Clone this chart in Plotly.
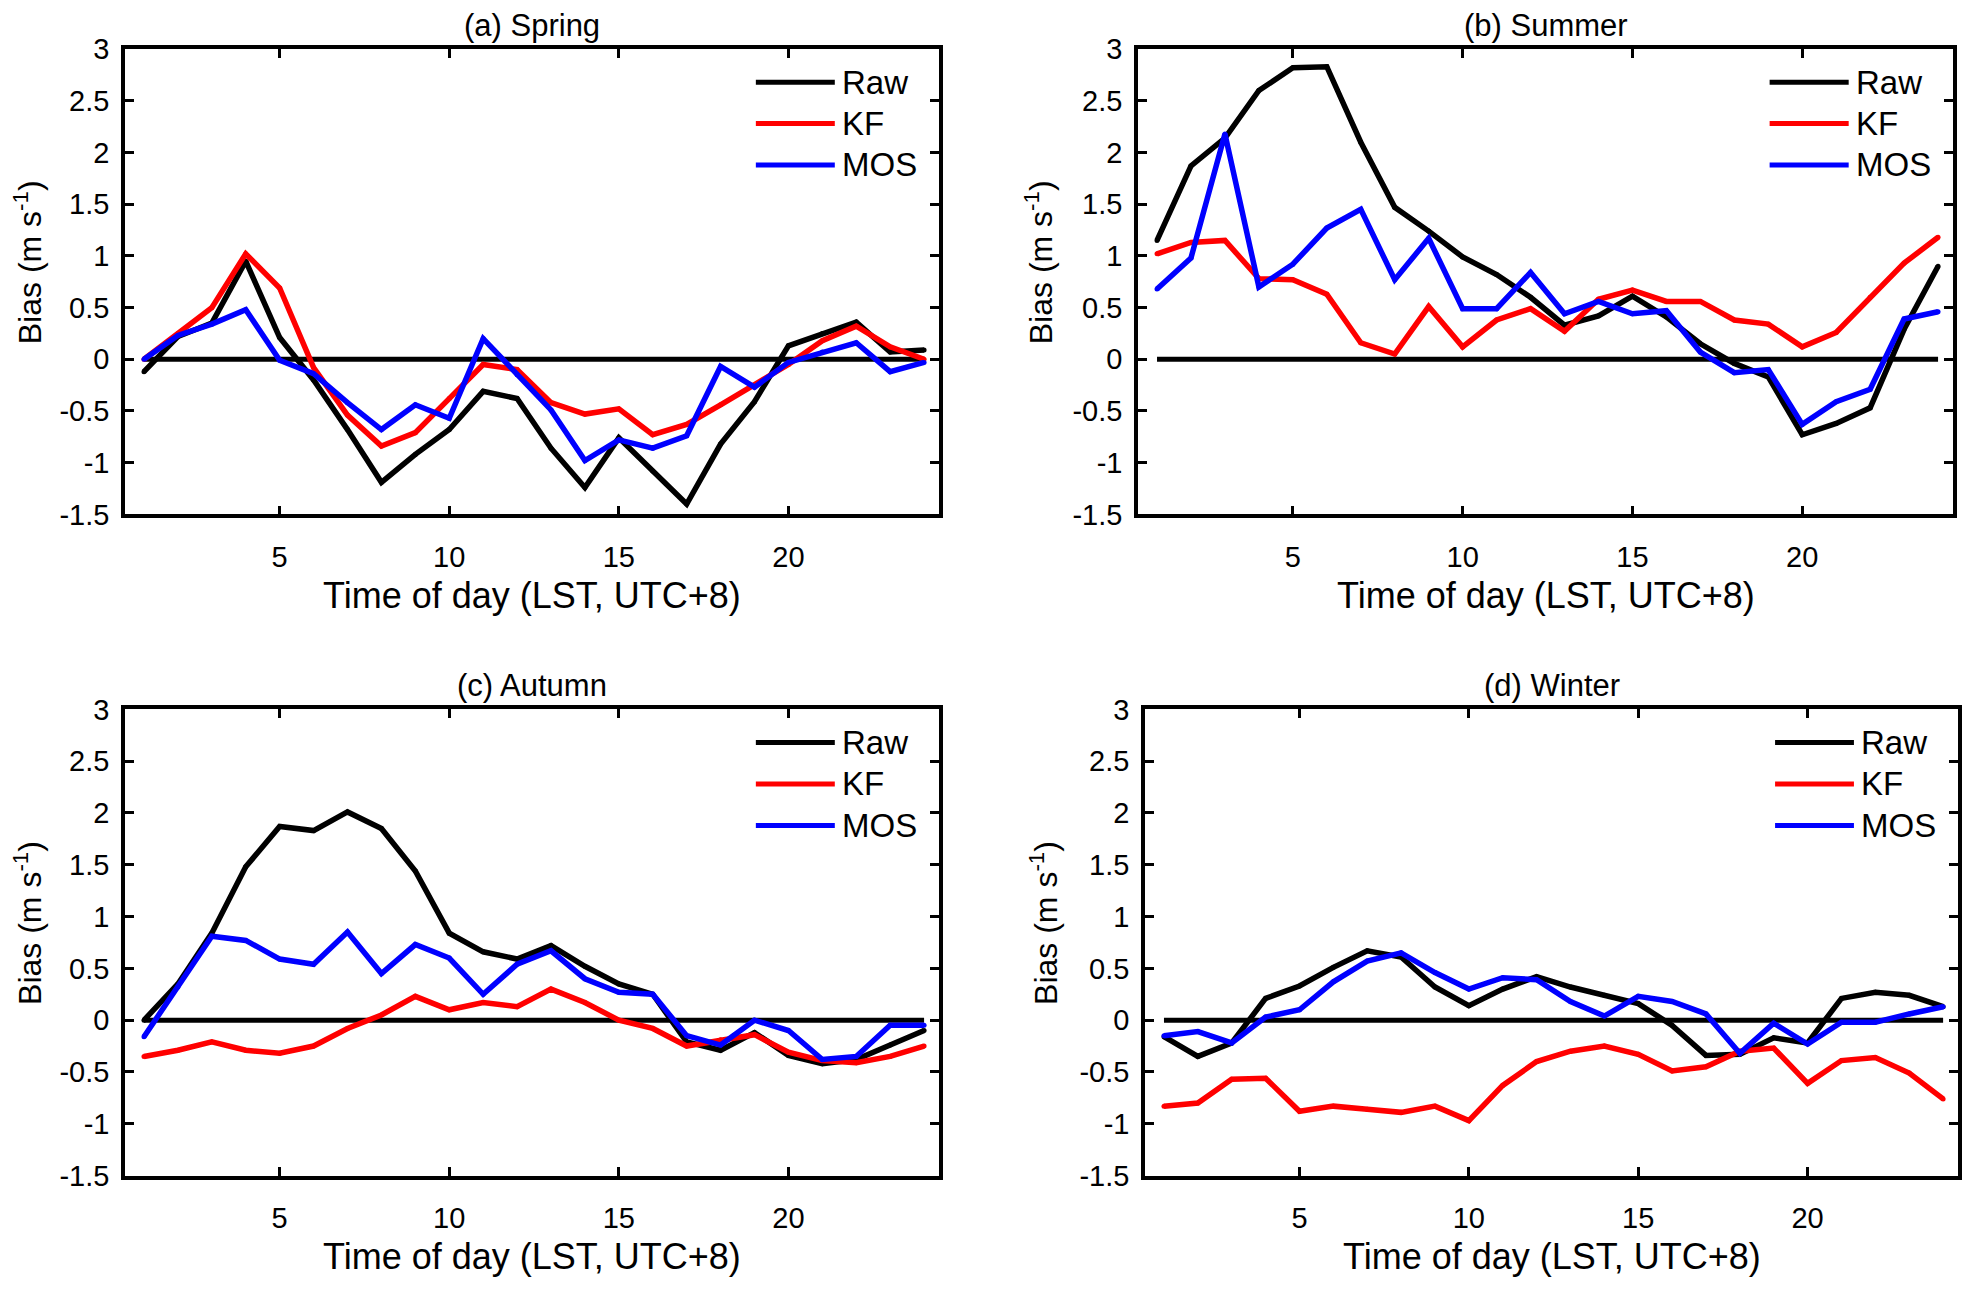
import plotly.graph_objects as go
from plotly.subplots import make_subplots

hours = list(range(1, 25))
zero_line = [0.0] * 24

spring_raw = [-0.12, 0.22, 0.35, 0.95, 0.21, -0.2, -0.68, -1.19, -0.92, -0.68, -0.31, -0.38,
              -0.86, -1.24, -0.76, -1.08, -1.40, -0.82, -0.41, 0.13, 0.25, 0.36, 0.07, 0.09]
spring_kf = [0.0, 0.25, 0.5, 1.02, 0.69, -0.08, -0.54, -0.84, -0.71, -0.38, -0.05, -0.1,
             -0.42, -0.53, -0.48, -0.73, -0.63, -0.44, -0.25, -0.05, 0.18, 0.32, 0.12, 0.0]
spring_mos = [0.0, 0.23, 0.34, 0.48, -0.01, -0.14, -0.42, -0.68, -0.44, -0.57, 0.2, -0.15,
              -0.49, -0.98, -0.78, -0.86, -0.74, -0.07, -0.27, -0.03, 0.07, 0.16, -0.12, -0.03]

summer_raw = [1.15, 1.87, 2.14, 2.6, 2.82, 2.83, 2.1, 1.47, 1.24, 0.99, 0.82, 0.6,
              0.33, 0.42, 0.61, 0.41, 0.15, -0.04, -0.17, -0.73, -0.62, -0.47, 0.29, 0.9]
summer_kf = [1.02, 1.13, 1.15, 0.78, 0.77, 0.63, 0.16, 0.05, 0.51, 0.12, 0.38, 0.49,
             0.27, 0.58, 0.67, 0.56, 0.56, 0.38, 0.34, 0.12, 0.26, 0.6, 0.93, 1.18]
summer_mos = [0.68, 0.98, 2.18, 0.7, 0.92, 1.27, 1.45, 0.77, 1.17, 0.49, 0.49, 0.84,
              0.44, 0.56, 0.44, 0.47, 0.07, -0.13, -0.1, -0.63, -0.41, -0.29, 0.39, 0.46]

autumn_raw = [0.0, 0.35, 0.84, 1.48, 1.87, 1.83, 2.01, 1.85, 1.44, 0.84, 0.66, 0.59,
              0.72, 0.52, 0.35, 0.25, -0.21, -0.29, -0.12, -0.34, -0.42, -0.38, -0.24, -0.1]
autumn_kf = [-0.35, -0.29, -0.21, -0.29, -0.32, -0.25, -0.08, 0.05, 0.23, 0.1, 0.17, 0.13,
             0.3, 0.17, 0.0, -0.08, -0.25, -0.19, -0.14, -0.31, -0.39, -0.41, -0.35, -0.25]
autumn_mos = [-0.16, 0.32, 0.81, 0.77, 0.59, 0.54, 0.85, 0.45, 0.73, 0.6, 0.25, 0.54,
              0.67, 0.4, 0.27, 0.25, -0.15, -0.24, 0.0, -0.1, -0.38, -0.35, -0.05, -0.05]

winter_raw = [-0.16, -0.35, -0.22, 0.21, 0.33, 0.51, 0.67, 0.61, 0.32, 0.14, 0.3, 0.42,
              0.32, 0.24, 0.16, -0.05, -0.34, -0.33, -0.17, -0.22, 0.21, 0.27, 0.24, 0.13]
winter_kf = [-0.83, -0.8, -0.57, -0.56, -0.88, -0.83, -0.86, -0.89, -0.83, -0.97, -0.63, -0.4,
             -0.3, -0.25, -0.33, -0.49, -0.45, -0.3, -0.27, -0.61, -0.39, -0.36, -0.51, -0.76]
winter_mos = [-0.15, -0.11, -0.22, 0.03, 0.1, 0.37, 0.57, 0.65, 0.46, 0.3, 0.41, 0.39,
              0.18, 0.04, 0.23, 0.18, 0.06, -0.32, -0.03, -0.23, -0.02, -0.02, 0.06, 0.13]

panel_titles = ["(a) Spring", "(b) Summer", "(c) Autumn", "(d) Winter"]
series_names = ["Raw", "KF", "MOS"]
series_colors = ["#000000", "#ff0000", "#0000ff"]
panels = [
    (spring_raw, spring_kf, spring_mos),
    (summer_raw, summer_kf, summer_mos),
    (autumn_raw, autumn_kf, autumn_mos),
    (winter_raw, winter_kf, winter_mos),
]
y_ticks = [-1.5, -1, -0.5, 0, 0.5, 1, 1.5, 2, 2.5, 3]
y_ticktext = ["-1.5", "-1", "-0.5", "0", "0.5", "1", "1.5", "2", "2.5", "3"]
x_ticks = [5, 10, 15, 20]

FONT = "Liberation Sans, Arial, sans-serif"
W, H = 1968, 1292

fig = make_subplots(rows=2, cols=2)

# panel boxes in pixels: left, right, top, bottom
boxes = [
    (125, 939, 34, 511),
    (1138, 1953, 34, 511),
    (125, 939, 711, 1189),
    (1145, 1958, 711, 1189),
]
ylabel_x = [28, 1039, 28, 1044]

for i, series in enumerate(panels):
    row, col = i // 2 + 1, i % 2 + 1
    fig.add_trace(go.Scatter(x=hours, y=zero_line, mode="lines",
                             line=dict(color="black", width=5),
                             showlegend=False, hoverinfo="skip"),
                  row=row, col=col)
    for name, color, vals in zip(series_names, series_colors, series):
        fig.add_trace(go.Scatter(x=hours, y=vals, mode="lines+markers", name=name,
                                 line=dict(color=color, width=5.5),
                                 marker=dict(color=color, size=5),
                                 showlegend=False),
                      row=row, col=col)

    ax = "" if i == 0 else str(i + 1)
    left, right, top, bottom = boxes[i]
    fig.layout["xaxis" + ax].update(domain=[left / W, right / W])
    fig.layout["yaxis" + ax].update(domain=[1 - bottom / H, 1 - top / H])
    xd, yd = "x%s domain" % ax, "y%s domain" % ax

    # panel title
    fig.add_annotation(text=panel_titles[i], xref=xd, yref=yd, x=0.5, y=1,
                       yanchor="middle", yshift=24, showarrow=False,
                       font=dict(size=31, color="black", family=FONT))

    # axis titles
    fig.add_annotation(text="Time of day (LST, UTC+8)", xref="paper", yref="paper",
                       x=(left + right) / 2 / W, y=1 - (bottom + 83) / H,
                       xanchor="center", yanchor="middle", showarrow=False,
                       font=dict(size=36, color="black", family=FONT))
    fig.add_annotation(text="Bias (m s<sup>-1</sup>)", xref="paper", yref="paper",
                       x=ylabel_x[i] / W, y=1 - ((top + bottom) / 2 - 20) / H,
                       textangle=-90, xanchor="center", yanchor="middle", showarrow=False,
                       font=dict(size=32, color="black", family=FONT))

    # legend drawn inside the top right corner
    for k, (name, color) in enumerate(zip(series_names, series_colors)):
        ly = 0.929 - k * 0.089
        fig.add_shape(type="line", xref=xd, yref=yd,
                      x0=0.775, x1=0.872, y0=ly, y1=ly,
                      line=dict(color=color, width=5))
        fig.add_annotation(text=name, xref=xd, yref=yd,
                           x=0.878, y=ly, xanchor="left", yanchor="middle", showarrow=False,
                           font=dict(size=33, color="black", family=FONT))

fig.update_xaxes(range=[0.44, 24.44], tickvals=x_ticks,
                 showline=True, linecolor="black", linewidth=3.5, mirror="ticks",
                 ticks="inside", ticklen=9, tickwidth=3, tickcolor="black",
                 showgrid=False, zeroline=False, ticklabelstandoff=14,
                 tickfont=dict(size=29, color="black", family=FONT))
fig.update_yaxes(range=[-1.5, 3], tickvals=y_ticks, ticktext=y_ticktext,
                 showline=True, linecolor="black", linewidth=3.5, mirror="ticks",
                 ticks="inside", ticklen=9, tickwidth=3, tickcolor="black",
                 showgrid=False, zeroline=False, ticklabelstandoff=6,
                 tickfont=dict(size=29, color="black", family=FONT))

fig.update_layout(
    width=W, height=H,
    margin=dict(l=0, r=0, t=0, b=0),
    plot_bgcolor="white", paper_bgcolor="white",
    showlegend=False,
    font=dict(family=FONT, color="black"),
)

fig.write_html("out.html", config={"displayModeBar": False},
               post_script="document.body.style.margin='0px';")
